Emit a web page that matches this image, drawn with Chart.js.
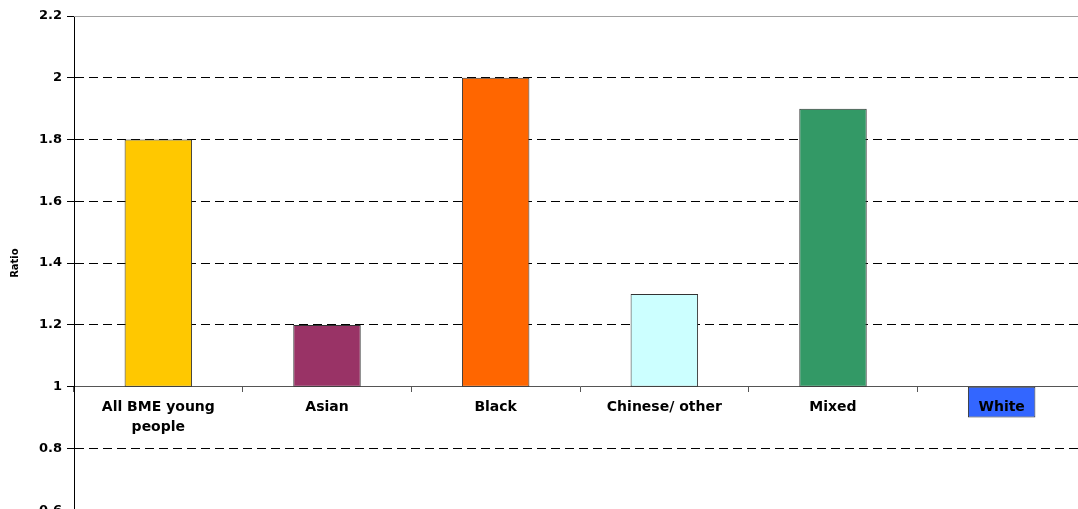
<!DOCTYPE html>
<html>
<head>
<meta charset="utf-8">
<script src="https://cdn.jsdelivr.net/npm/chart.js@4"></script>
<style>
  html, body { margin: 0; padding: 0; background: #fff; overflow: hidden; }
  #wrap { position: relative; width: 1088px; height: 523px; }
</style>
</head>
<body>
<div id="wrap"><canvas id="chart"></canvas></div>
<script>
// Ratio by ethnic group, bars start from the 1.0 baseline
const categories = [["All BME young", "people"], "Asian", "Black", "Chinese/ other", "Mixed", "White"];
const ratios = [1.8, 1.2, 2.0, 1.3, 1.9, 0.9];
const baseline = 1;
const barColours = ["#FFC800", "#993366", "#FF6600", "#CCFFFF", "#339966", "#3366FF"];
const yTicks = [0.6, 0.8, 1, 1.2, 1.4, 1.6, 1.8, 2, 2.2];

const family = "'DejaVu Sans', Verdana, sans-serif";

// solid frame lines at the top and bottom of the value range
const frameLines = {
  id: "frameLines",
  beforeDatasetsDraw(chart) {
    const { ctx, chartArea, scales } = chart;
    const y = scales.y;
    ctx.save();
    ctx.strokeStyle = "#a0a0a0";
    ctx.lineWidth = 1;
    [yTicks[yTicks.length - 1], yTicks[0]].forEach(v => {
      const py = Math.round(y.getPixelForValue(v)) + 0.5;
      ctx.beginPath();
      ctx.moveTo(chartArea.left, py);
      ctx.lineTo(chartArea.right, py);
      ctx.stroke();
    });
    ctx.restore();
  }
};

new Chart(document.getElementById("chart"), {
  type: "bar",
  data: {
    labels: categories,
    datasets: [{
      data: ratios.map(v => [baseline, v]),
      backgroundColor: barColours,
      borderColor: "#333333",
      borderWidth: 1,
      borderSkipped: false,
      barPercentage: 0.4,
      categoryPercentage: 1
    }]
  },
  options: {
    responsive: true,
    maintainAspectRatio: false,
    animation: false,
    layout: { padding: { top: 16, right: 2, bottom: 0, left: 0 } },
    plugins: { legend: { display: false }, tooltip: { enabled: false } },
    scales: {
      x: {
        position: { y: baseline },
        grid: { drawOnChartArea: false, drawTicks: true, tickLength: 5, tickColor: "#555", offset: true },
        border: { display: true, color: "#555", width: 1 },
        ticks: {
          color: "#000",
          font: { family, weight: "bold", size: 14, lineHeight: 1.4 },
          padding: 6, maxRotation: 0, autoSkip: false, z: 1
        }
      },
      y: {
        min: yTicks[0],
        max: yTicks[yTicks.length - 1],
        afterBuildTicks(scale) { scale.ticks = yTicks.map(v => ({ value: v })); },
        afterFit(scale) { scale.width = 74; },
        ticks: {
          color: "#000",
          font: { family, weight: "bold", size: 13 },
          padding: 5,
          callback: v => String(Math.round(v * 10) / 10)
        },
        grid: {
          color: ctx => {
            const v = ctx.tick ? Math.round(ctx.tick.value * 10) / 10 : null;
            return (v === 1 || v === 0.6 || v === 2.2) ? "rgba(0,0,0,0)" : "#000";
          },
          lineWidth: 1,
          drawTicks: true,
          tickLength: 7,
          tickColor: "#000"
        },
        border: { display: true, color: "#000", width: 1, dash: [9, 5] },
        title: {
          display: true,
          text: "Ratio",
          color: "#000",
          font: { family, weight: "bold", size: 10 },
          padding: { top: 9, bottom: 0 }
        }
      }
    }
  },
  plugins: [frameLines]
});
</script>
</body>
</html>
